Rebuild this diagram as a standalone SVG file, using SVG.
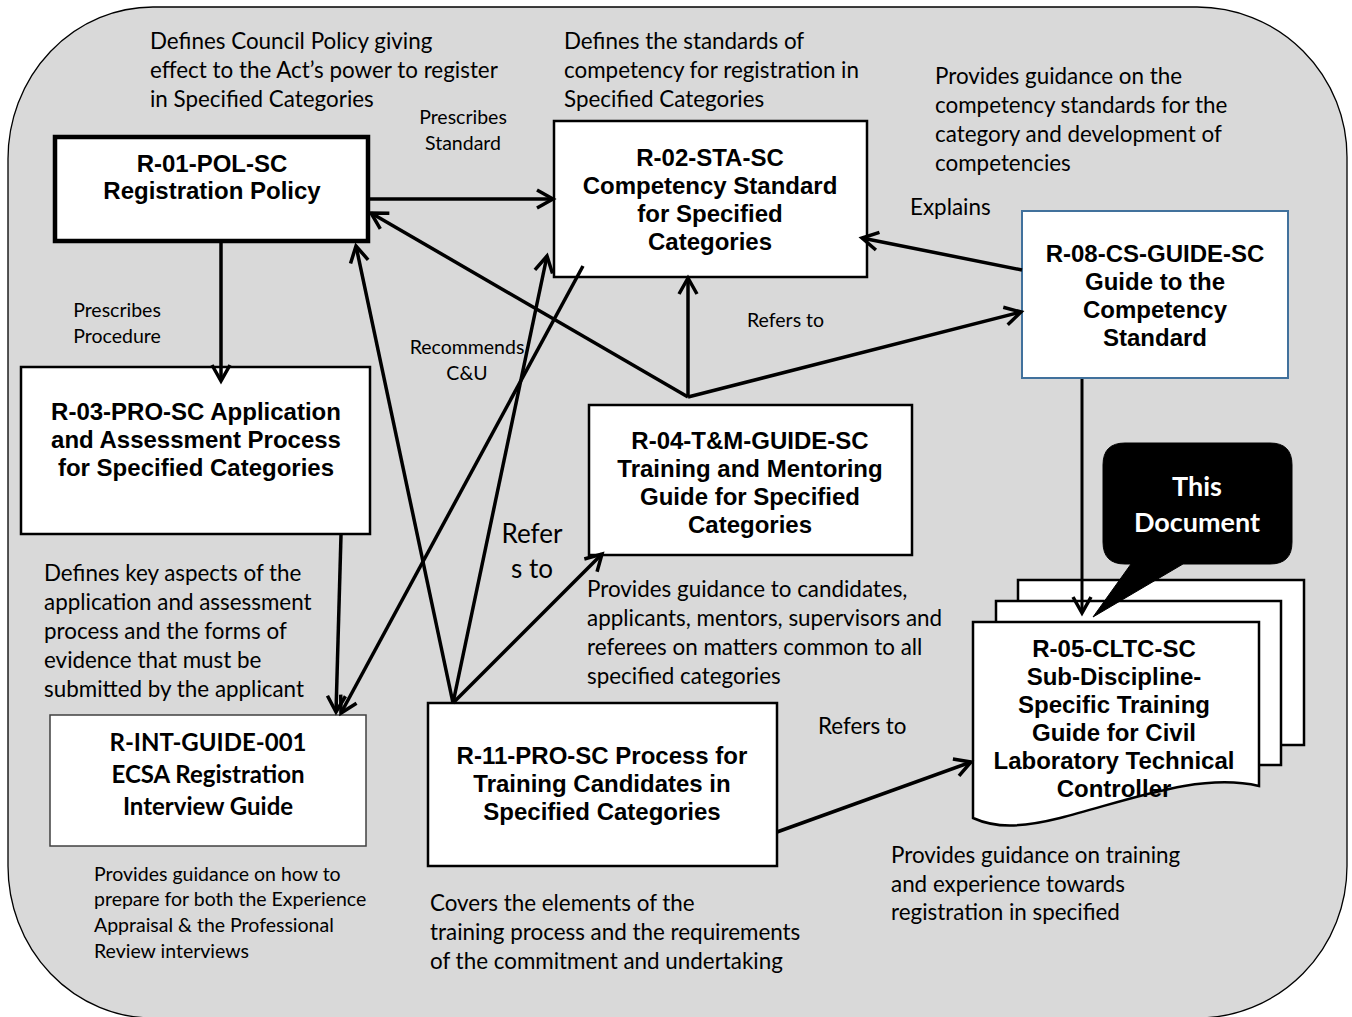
<svg xmlns="http://www.w3.org/2000/svg" width="1352" height="1017" viewBox="0 0 1352 1017">
<style>
.bg{fill:#d9d9d9;stroke:#000;stroke-width:1.3}
.box{fill:#fff;stroke:#000;stroke-width:2.5}
.t{font-family:"Liberation Sans",Arial,sans-serif;font-weight:bold;font-size:24px;text-anchor:middle;fill:#000}
.tc{font-family:Lato,"Open Sans",sans-serif;font-weight:bold;font-size:24px;text-anchor:middle;fill:#000}
.d{font-family:Lato,"Open Sans",sans-serif;font-size:22.4px;fill:#000}
.s{font-family:Lato,"Open Sans",sans-serif;font-size:19.5px;fill:#000}
.m{text-anchor:middle}
.conn{fill:none;stroke:#000;stroke-width:3.5;marker-end:url(#arr)}
</style>
<defs>
<marker id="arr" markerUnits="userSpaceOnUse" viewBox="0 0 24 24" markerWidth="24" markerHeight="24" refX="20" refY="12" orient="auto" overflow="visible">
<path d="M4,3 L20,12 L4,21" fill="none" stroke="#000" stroke-width="3.5"/>
</marker>
</defs>
<path class="bg" d="M153,7 H1197 A150,150 0 0 1 1347,157 V866 A150,152 0 0 1 1197,1018 H153 A145,152 0 0 1 8,866 V159 A145,152 0 0 1 153,7 Z"/>

<g id="desc-texts">
<text class="d" x="150" y="49">Defines Council Policy giving</text>
<text class="d" x="150" y="78">effect to the Act’s power to register</text>
<text class="d" x="150" y="107">in Specified Categories</text>
<text class="d" x="564" y="49">Defines the standards of</text>
<text class="d" x="564" y="78">competency for registration in</text>
<text class="d" x="564" y="107">Specified Categories</text>
<text class="d" x="935" y="84">Provides guidance on the</text>
<text class="d" x="935" y="113">competency standards for the</text>
<text class="d" x="935" y="142">category and development of</text>
<text class="d" x="935" y="171">competencies</text>
<text class="d" x="44" y="581">Defines key aspects of the</text>
<text class="d" x="44" y="610">application and assessment</text>
<text class="d" x="44" y="639">process and the forms of</text>
<text class="d" x="44" y="668">evidence that must be</text>
<text class="d" x="44" y="697">submitted by the applicant</text>
<text class="d" x="587" y="597">Provides guidance to candidates,</text>
<text class="d" x="587" y="626">applicants, mentors, supervisors and</text>
<text class="d" x="587" y="655">referees on matters common to all</text>
<text class="d" x="587" y="684">specified categories</text>
<text class="s" x="94" y="881">Provides guidance on how to</text>
<text class="s" x="94" y="906">prepare for both the Experience</text>
<text class="s" x="94" y="932">Appraisal &amp; the Professional</text>
<text class="s" x="94" y="958">Review interviews</text>
<text class="d" x="430" y="911">Covers the elements of the</text>
<text class="d" x="430" y="940">training process and the requirements</text>
<text class="d" x="430" y="969">of the commitment and undertaking</text>
<text class="d" x="891" y="863">Provides guidance on training</text>
<text class="d" x="891" y="892">and experience towards</text>
<text class="d" x="891" y="920">registration in specified</text>
</g>

<g id="edge-labels">
<text class="s m" x="463" y="124">Prescribes</text>
<text class="s m" x="463" y="150">Standard</text>
<text class="s m" x="117" y="317">Prescribes</text>
<text class="s m" x="117" y="343">Procedure</text>
<text class="d" x="910" y="215">Explains</text>
<text class="s" x="747" y="327">Refers to</text>
<text class="s m" x="467" y="354">Recommends</text>
<text class="s m" x="467" y="380">C&amp;U</text>
<text class="d m" x="532" y="543" style="font-size:26px">Refer</text>
<text class="d m" x="532" y="578" style="font-size:26px">s to</text>
<text class="d" x="818" y="734">Refers to</text>
</g>

<g id="n-r01">
<rect x="55" y="137" width="313" height="104" fill="#fff" stroke="#000" stroke-width="4.5"/>
<text class="t" x="212" y="172">R-01-POL-SC</text>
<text class="t" x="212" y="199">Registration Policy</text>
</g>
<g id="n-r02">
<rect class="box" x="554" y="121" width="313" height="156"/>
<text class="t" x="710" y="166">R-02-STA-SC</text>
<text class="t" x="710" y="194">Competency Standard</text>
<text class="t" x="710" y="222">for Specified</text>
<text class="t" x="710" y="250">Categories</text>
</g>
<g id="n-r08">
<rect x="1022" y="211" width="266" height="167" fill="#fff" stroke="#41719c" stroke-width="2"/>
<text class="t" x="1155" y="262">R-08-CS-GUIDE-SC</text>
<text class="t" x="1155" y="290">Guide to the</text>
<text class="t" x="1155" y="318">Competency</text>
<text class="t" x="1155" y="346">Standard</text>
</g>
<g id="n-r03">
<rect class="box" x="21" y="367" width="349" height="167"/>
<text class="t" x="196" y="420">R-03-PRO-SC Application</text>
<text class="t" x="196" y="448">and Assessment Process</text>
<text class="t" x="196" y="476">for Specified Categories</text>
</g>
<g id="n-r04">
<rect class="box" x="589" y="405" width="323" height="150"/>
<text class="t" x="750" y="449">R-04-T&amp;M-GUIDE-SC</text>
<text class="t" x="750" y="477">Training and Mentoring</text>
<text class="t" x="750" y="505">Guide for Specified</text>
<text class="t" x="750" y="533">Categories</text>
</g>
<g id="n-rint">
<rect x="50" y="715" width="316" height="131" fill="#fff" stroke="#404040" stroke-width="1.5"/>
<text class="tc" x="208" y="751">R-INT-GUIDE-001</text>
<text class="tc" x="208" y="783">ECSA Registration</text>
<text class="tc" x="208" y="815">Interview Guide</text>
</g>
<g id="n-r11">
<rect class="box" x="428" y="703" width="349" height="163"/>
<text class="t" x="602" y="764">R-11-PRO-SC Process for</text>
<text class="t" x="602" y="792">Training Candidates in</text>
<text class="t" x="602" y="820">Specified Categories</text>
</g>
<g id="n-r05">
<rect class="box" x="1018" y="580" width="286" height="165"/>
<rect class="box" x="996" y="601" width="285" height="164"/>
<path class="box" d="M973,622 H1259 V786 C1200,772 1130,800 1060,818 C1020,828 995,828 973,818 Z"/>
<text class="t" x="1114" y="657">R-05-CLTC-SC</text>
<text class="t" x="1114" y="685">Sub-Discipline-</text>
<text class="t" x="1114" y="713">Specific Training</text>
<text class="t" x="1114" y="741">Guide for Civil</text>
<text class="t" x="1114" y="769">Laboratory Technical</text>
<text class="t" x="1114" y="797">Controller</text>
</g>

<g id="connectors">
<path class="conn" d="M366,199 L553,199"/>
<path class="conn" d="M221,243 L221,381"/>
<path class="conn" d="M341,535 L336,712"/>
<path class="conn" d="M583,266 L341,713"/>
<path class="conn" d="M453,703 L356,246"/>
<path class="conn" d="M453,703 L547,256"/>
<path class="conn" d="M453,703 L602,554"/>
<path class="conn" d="M688,397 L371,213"/>
<path class="conn" d="M688,397 L688,278"/>
<path class="conn" d="M688,397 L1021,312"/>
<path class="conn" d="M1022,270 L862,238"/>
<path class="conn" d="M1082,379 L1082,613" style="stroke-width:3"/>
<path class="conn" d="M777,832 L971,762"/>
</g>

<g id="n-callout">
<path d="M1125,443 H1270 Q1292,443 1292,465 V542 Q1292,564 1270,564 H1183 L1093,617 L1131,564 H1125 Q1103,564 1103,542 V465 Q1103,443 1125,443 Z" fill="#000" stroke="#000" stroke-width="1"/>
<text class="tc" x="1197" y="496" style="fill:#fff;font-size:27px">This</text>
<text class="tc" x="1197" y="532" style="fill:#fff;font-size:27px">Document</text>
</g>
</svg>
